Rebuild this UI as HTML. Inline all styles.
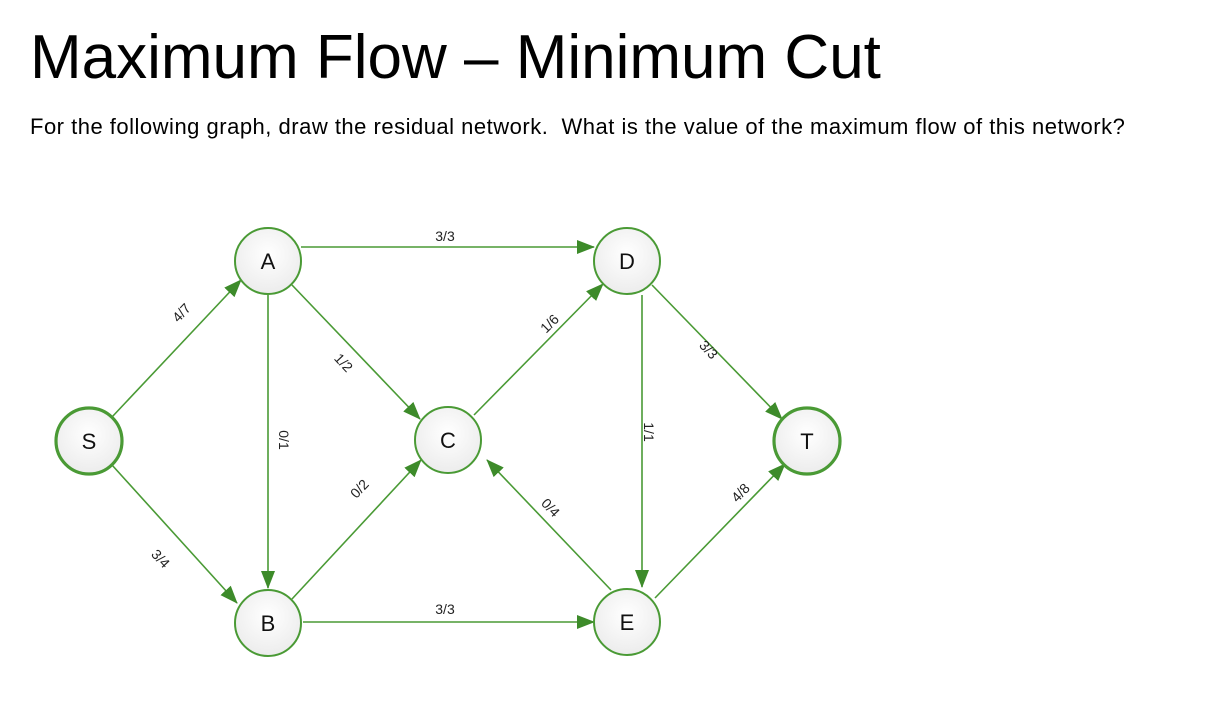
<!DOCTYPE html>
<html><head><meta charset="utf-8"><style>
body{margin:0;width:1206px;height:722px;background:#fff;overflow:hidden;font-family:"Liberation Sans",sans-serif;}
h1{position:absolute;left:30px;top:22px;margin:0;font-weight:normal;font-size:62px;letter-spacing:0px;color:#000;line-height:72px;}
p{position:absolute;left:30px;top:110px;margin:0;font-size:22px;letter-spacing:0.5px;line-height:34px;width:1110px;color:#000;}
svg{position:absolute;left:0;top:0;}
</style></head><body>
<h1>Maximum Flow – Minimum Cut</h1>
<p>For the following graph, draw the residual network.&nbsp; What is the value of the maximum flow of this network?</p>
<svg width="1206" height="722" viewBox="0 0 1206 722">
<defs>
<marker id="a2" markerWidth="18" markerHeight="14" refX="17" refY="7" orient="auto" markerUnits="userSpaceOnUse"><path d="M0,0 L18,7 L0,14 z" fill="#3d8b2a"/></marker>
<radialGradient id="g" cx="50%" cy="40%" r="60%"><stop offset="0" stop-color="#fff"/><stop offset="1" stop-color="#ececec"/></radialGradient>
</defs>
<g stroke="#4a9a35" stroke-width="1.6" fill="none" marker-end="url(#a2)">
<line x1="112" y1="417" x2="241" y2="280"/>
<line x1="112" y1="465" x2="237" y2="603"/>
<line x1="301" y1="247" x2="594" y2="247"/>
<line x1="268" y1="295" x2="268" y2="588"/>
<line x1="292" y1="285" x2="420" y2="419"/>
<line x1="292" y1="599" x2="421" y2="460"/>
<line x1="474" y1="415" x2="603" y2="284"/>
<line x1="303" y1="622" x2="594" y2="622"/>
<line x1="611" y1="590" x2="487" y2="460"/>
<line x1="642" y1="295" x2="642" y2="587"/>
<line x1="652" y1="285" x2="782" y2="419"/>
<line x1="655" y1="598" x2="785" y2="464"/>
</g>
<g fill="url(#g)" stroke="#4a9a35" stroke-width="2">
<circle cx="268" cy="261" r="33"/>
<circle cx="448" cy="440" r="33"/>
<circle cx="627" cy="261" r="33"/>
<circle cx="268" cy="623" r="33"/>
<circle cx="627" cy="622" r="33"/>
<circle cx="89" cy="441" r="33" stroke-width="3.2"/>
<circle cx="807" cy="441" r="33" stroke-width="3.2"/>
</g>
<g font-family="Liberation Sans, sans-serif" font-size="22" text-anchor="middle" fill="#111">
<text x="268" y="269">A</text><text x="448" y="448">C</text><text x="627" y="269">D</text>
<text x="268" y="631">B</text><text x="627" y="630">E</text><text x="89" y="449">S</text><text x="807" y="449">T</text>
</g>
<g font-family="Liberation Sans, sans-serif" font-size="14" text-anchor="middle" fill="#222">
<text x="445" y="241">3/3</text>
<text x="445" y="614">3/3</text>
<text transform="translate(185,316) rotate(-47)">4/7</text>
<text transform="translate(157,562) rotate(47)">3/4</text>
<text transform="translate(279,440) rotate(90)">0/1</text>
<text transform="translate(340,366) rotate(47)">1/2</text>
<text transform="translate(363,492) rotate(-47)">0/2</text>
<text transform="translate(553,327) rotate(-45)">1/6</text>
<text transform="translate(547,511) rotate(47)">0/4</text>
<text transform="translate(644,432) rotate(90)">1/1</text>
<text transform="translate(705,353) rotate(47)">3/3</text>
<text transform="translate(744,496) rotate(-47)">4/8</text>
</g>
</svg>
</body></html>
